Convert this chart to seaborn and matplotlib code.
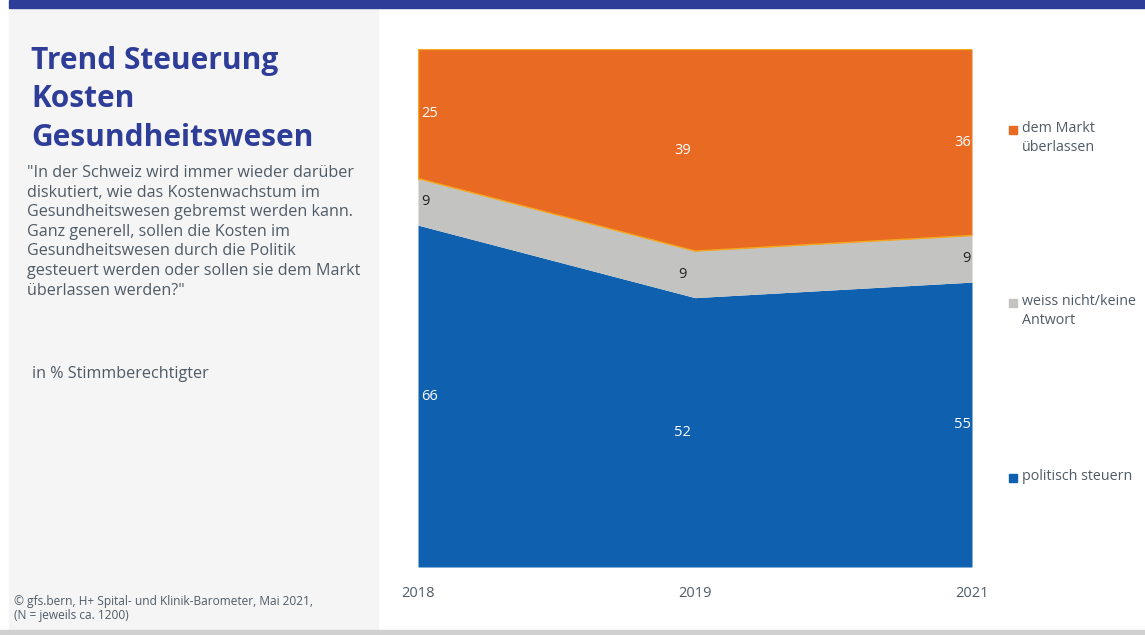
import numpy as np
import matplotlib
matplotlib.use("Agg")
import matplotlib.pyplot as plt
import seaborn as sns
from matplotlib.patches import Rectangle

# Survey data (in % of eligible voters)
years = ["2018", "2019", "2021"]
politisch = [66, 52, 55]
weiss_nicht = [9, 9, 9]
markt = [25, 39, 36]
series_labels = ["politisch steuern", "weiss nicht/keine\nAntwort", "dem Markt\nüberlassen"]

title = "Trend Steuerung\nKosten\nGesundheitswesen"
question = ('"In der Schweiz wird immer wieder darüber\n'
            'diskutiert, wie das Kostenwachstum im\n'
            'Gesundheitswesen gebremst werden kann.\n'
            'Ganz generell, sollen die Kosten im\n'
            'Gesundheitswesen durch die Politik\n'
            'gesteuert werden oder sollen sie dem Markt\n'
            'überlassen werden?"')
unit = "in % Stimmberechtigter"
source = "© gfs.bern, H+ Spital- und Klinik-Barometer, Mai 2021,\n(N = jeweils ca. 1200)"

BLUE = "#0F60AE"
GREY = "#C3C3C1"
ORANGE = "#E86A23"
EDGE = "#F4A81D"
TITLE_BLUE = "#2E3D98"
TEXT = "#4F5B66"

sns.set_theme(style="white")
plt.rcParams["font.family"] = ["Open Sans", "DejaVu Sans"]

W, H = 1145, 635
fig = plt.figure(figsize=(W / 100, H / 100), dpi=100)
fig.patch.set_facecolor("white")

def fx(px):
    return px / W

def fy(py):
    return 1 - py / H

# Background panels
fig.patches.append(Rectangle((fx(9), fy(630)), fx(378 - 9), (630 - 8) / H,
                             transform=fig.transFigure, color="#F5F5F5", zorder=0))
fig.patches.append(Rectangle((fx(9), fy(8)), fx(W - 9), 8 / H,
                             transform=fig.transFigure, color=TITLE_BLUE, zorder=0))
fig.patches.append(Rectangle((0, 0), 1, 5 / H,
                             transform=fig.transFigure, color="#D0D0D0", zorder=0))

# Left-hand texts
fig.text(fx(31), fy(46), title, ha="left", va="top", fontsize=21.5, fontweight="bold",
         color=TITLE_BLUE, linespacing=1.36)
fig.text(fx(27), fy(165), question, ha="left", va="top", fontsize=11.6,
         color=TEXT, linespacing=1.3)
fig.text(fx(32), fy(366), unit, ha="left", va="top", fontsize=11.6, color=TEXT)
fig.text(fx(14), fy(595), source, ha="left", va="top", fontsize=8.6, color=TEXT,
         linespacing=1.1)

# Stacked area chart
ax = fig.add_axes([fx(418), fy(567), fx(972 - 418), (567 - 49) / H])
x = np.arange(len(years))
ax.stackplot(x, politisch, weiss_nicht, markt, colors=[BLUE, GREY, ORANGE],
             linewidth=0)
lower = np.array(politisch)
mid = lower + np.array(weiss_nicht)
top = mid + np.array(markt)
sns.lineplot(x=x, y=mid, ax=ax, color=EDGE, linewidth=1.0)
sns.lineplot(x=x, y=top, ax=ax, color=EDGE, linewidth=1.0)
ax.plot([0, 0], [mid[0], top[0]], color=EDGE, linewidth=1.0)
ax.plot([2, 2], [mid[2], top[2]], color=EDGE, linewidth=1.0)
ax.set_xlim(0, 2)
ax.set_ylim(0, 100)
ax.set_xticks(x)
ax.set_xticklabels(years)
ax.tick_params(axis="x", length=0, pad=14, labelsize=10.5, labelcolor=TEXT)
ax.set_yticks([])
for s in ax.spines.values():
    s.set_visible(False)
ax.set_facecolor("none")

# Value labels at band centres
offsets = [(0.012, "left"), (-0.045, "center"), (-0.005, "right")]
for i in range(len(years)):
    dx, ha = offsets[i]
    bands = [(0, politisch[i], "white"),
             (politisch[i], weiss_nicht[i], "#222222"),
             (politisch[i] + weiss_nicht[i], markt[i], "white")]
    for base, val, col in bands:
        ax.text(x[i] + dx, base + val / 2, f"{val}", ha=ha, va="center",
                fontsize=10.5, color=col)

# Legend entries
legend_items = [(markt, ORANGE, series_labels[2], 130),
                (weiss_nicht, GREY, series_labels[1], 303),
                (politisch, BLUE, series_labels[0], 478)]
for _, col, lab, py in legend_items:
    fig.patches.append(Rectangle((fx(1009), fy(py + 4)), fx(8), 8 / H,
                                 transform=fig.transFigure, color=col,
                                 edgecolor=EDGE if col == ORANGE else col))
    fig.text(fx(1022), fy(py - 9), lab, ha="left", va="top", fontsize=10.3,
             color=TEXT, linespacing=1.35)

fig.savefig("out.png", dpi=100)
